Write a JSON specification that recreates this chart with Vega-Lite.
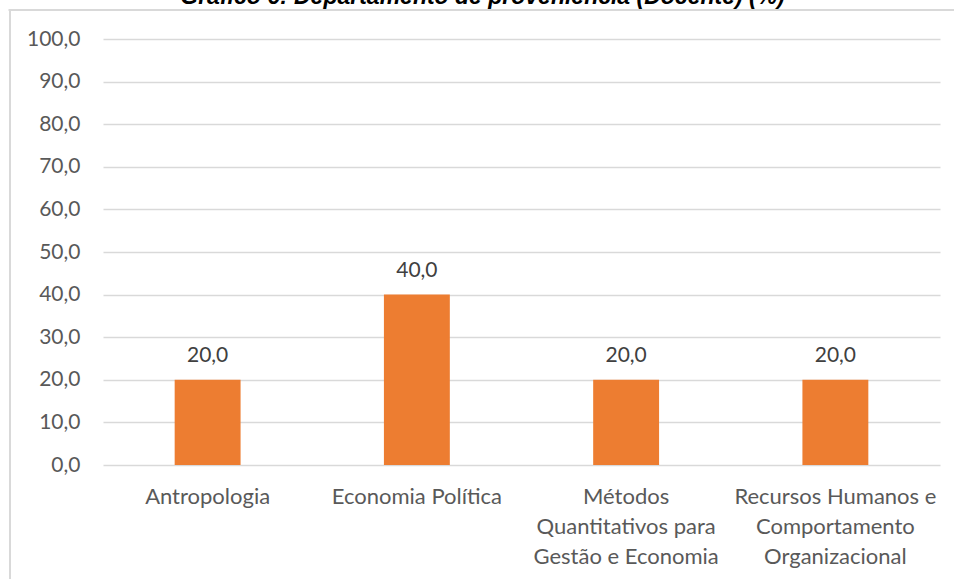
{
  "$schema": "https://vega.github.io/schema/vega-lite/v6.json",
  "autosize": {"type": "none"},
  "width": 837,
  "height": 426,
  "padding": {"left": 103, "top": 39, "right": 14, "bottom": 114},
  "background": "white",
  "title": {
    "text": "Gráfico 6: Departamento de proveniência (Docente) (%)",
    "font": "Liberation Sans",
    "fontSize": 23,
    "fontWeight": "bold",
    "fontStyle": "italic",
    "color": "#000000",
    "anchor": "middle",
    "frame": "group",
    "baseline": "alphabetic",
    "offset": 4,
    "dx": -39,
    "dy": 21
  },
  "config": {
    "locale": {"number": {"decimal": ",", "thousands": ".", "grouping": [3], "currency": ["", ""]}},
    "view": {"stroke": null},
    "font": "Lato"
  },
  "data": {
    "values": [
      {"dept": "Antropologia", "pct": 20.0},
      {"dept": "Economia Política", "pct": 40.0},
      {"dept": "Métodos|Quantitativos para|Gestão e Economia", "pct": 20.0},
      {"dept": "Recursos Humanos e|Comportamento|Organizacional", "pct": 20.0}
    ]
  },
  "resolve": {"scale": {"x": "independent", "y": "independent"}, "axis": {"x": "independent", "y": "independent"}},
  "layer": [
    {
      "encoding": {
        "x": {
          "field": "dept",
          "type": "nominal",
          "sort": null,
          "scale": {"paddingInner": 0.685, "paddingOuter": 0.3425},
          "axis": {
            "title": null,
            "labelAngle": 0,
            "labelExpr": "split(datum.label, '|')",
            "labelFont": "Lato",
            "labelFontSize": 22,
            "labelColor": "#595959",
            "labelBaseline": "alphabetic",
            "labelPadding": 38,
            "labelLineHeight": 30,
            "labelLimit": 400,
            "ticks": false,
            "domain": false,
            "grid": false
          }
        },
        "y": {
          "field": "pct",
          "type": "quantitative",
          "scale": {"domain": [0, 100], "nice": false},
          "axis": {
            "title": null,
            "values": [0, 10, 20, 30, 40, 50, 60, 70, 80, 90, 100],
            "format": ".1f",
            "labelFont": "Lato",
            "labelFontSize": 21,
            "labelColor": "#595959",
            "labelPadding": 23,
            "ticks": false,
            "domain": false,
            "grid": true,
            "gridColor": "#d9d9d9",
            "gridWidth": 1.3
          }
        }
      },
      "layer": [
        {"mark": {"type": "bar", "color": "#ED7D31"}},
        {
          "mark": {"type": "text", "font": "Lato", "fontSize": 21, "color": "#404040", "baseline": "alphabetic", "dy": -18},
          "encoding": {"text": {"field": "pct", "type": "quantitative", "format": ".1f"}}
        }
      ]
    },
    {
      "mark": {"type": "point", "opacity": 0},
      "encoding": {
        "x": {
          "field": "dept",
          "type": "nominal",
          "sort": null,
          "scale": {"range": [-95, 851], "paddingInner": 0, "paddingOuter": 0},
          "axis": {
            "orient": "top",
            "offset": 29.5,
            "title": null,
            "labels": false,
            "ticks": false,
            "grid": false,
            "domain": true,
            "domainColor": "#d9d9d9",
            "domainWidth": 2
          }
        },
        "y": {
          "field": "pct",
          "type": "quantitative",
          "scale": {"domain": [0, 100], "nice": false, "range": [540, -30]},
          "axis": {
            "orient": "left",
            "offset": 93.5,
            "title": null,
            "labels": false,
            "ticks": false,
            "grid": false,
            "domain": true,
            "domainColor": "#d9d9d9",
            "domainWidth": 2
          }
        }
      }
    }
  ]
}
